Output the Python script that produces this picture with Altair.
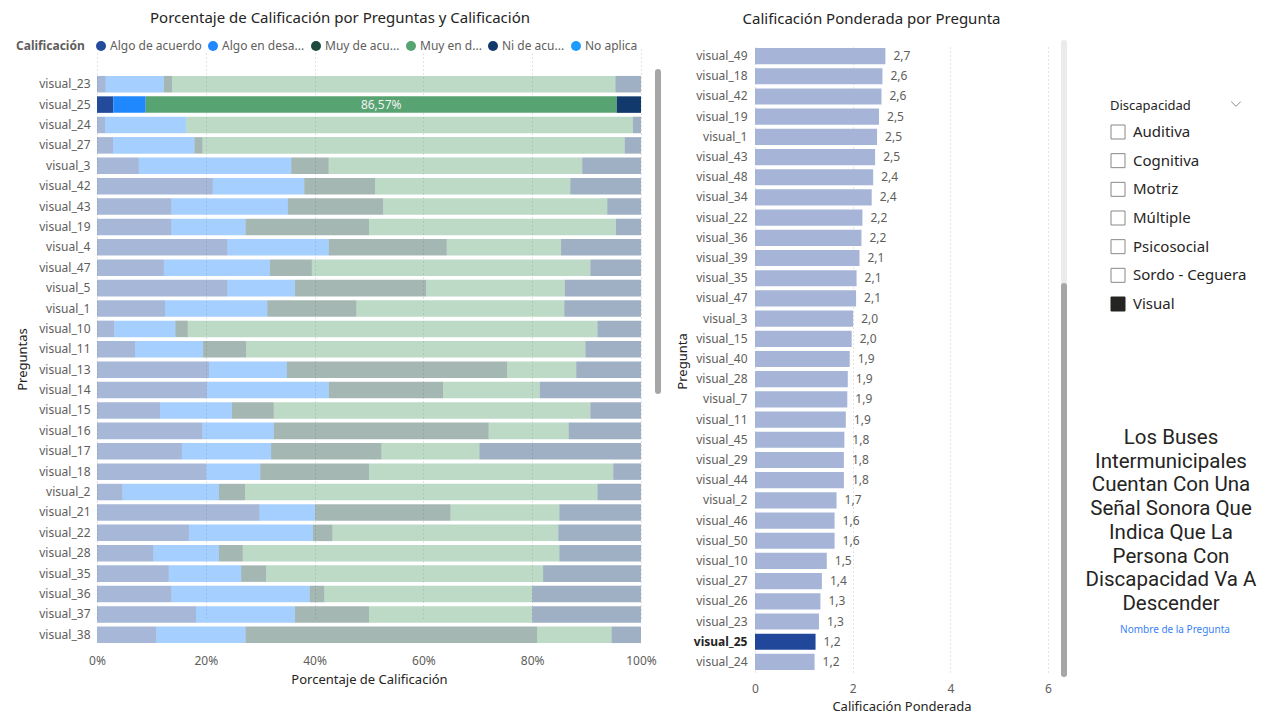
import altair as alt
import pandas as pd

FONT = "Segoe UI, Noto Sans, sans-serif"
TXT = "#252423"
LBL = "#605E5C"

# ---------------- left chart data ----------------
preguntas = ["visual_23", "visual_25", "visual_24", "visual_27", "visual_3", "visual_42", "visual_43",
             "visual_19", "visual_4", "visual_47", "visual_5", "visual_1", "visual_10", "visual_11",
             "visual_13", "visual_14", "visual_15", "visual_16", "visual_17", "visual_18", "visual_2",
             "visual_21", "visual_22", "visual_28", "visual_35", "visual_36", "visual_37", "visual_38"]
algo_de_acuerdo = [1.6, 2.99, 1.49, 2.99, 7.7, 21.3, 13.7, 13.7, 24.0, 12.3, 24.0, 12.5, 3.2, 7.0,
                   20.6, 20.2, 11.6, 19.4, 15.6, 20.1, 4.7, 29.9, 16.9, 10.4, 13.2, 13.7, 18.2, 10.9]
algo_en_desacuerdo = [10.7, 5.97, 14.93, 14.93, 28.0, 16.8, 21.4, 13.6, 18.6, 19.5, 12.4, 18.8, 11.2, 12.5,
                      14.3, 22.4, 13.2, 13.1, 16.4, 9.9, 17.7, 10.2, 22.8, 12.0, 13.3, 25.4, 18.2, 16.4]
muy_de_acuerdo = [1.5, 0.0, 0.0, 1.49, 6.9, 13.0, 17.5, 22.7, 21.7, 7.7, 24.1, 16.4, 2.3, 7.9,
                  40.5, 21.0, 7.7, 39.5, 20.3, 20.0, 4.8, 24.9, 3.6, 4.4, 4.6, 2.7, 13.6, 53.6]
muy_en_desacuerdo = [81.5, 86.57, 82.09, 77.61, 46.6, 35.9, 41.2, 45.4, 21.0, 51.2, 25.5, 38.2, 75.3, 62.4,
                     12.7, 17.8, 58.2, 14.7, 18.0, 44.9, 64.8, 20.0, 41.5, 58.2, 50.9, 38.2, 30.0, 13.7]
ni_de_acuerdo = [4.7, 4.47, 1.49, 2.99, 10.8, 13.0, 6.2, 4.6, 14.7, 9.3, 14.0, 14.1, 8.0, 10.2,
                 11.9, 18.6, 9.3, 13.3, 29.7, 5.1, 8.0, 15.0, 15.2, 15.0, 18.0, 20.0, 20.0, 5.4]

categorias = ["Algo de acuerdo", "Algo en desacuerdo", "Muy de acuerdo", "Muy en desacuerdo",
              "Ni de acuerdo ni en desacuerdo", "No aplica"]
colores = ["#234A9B", "#1F88FF", "#1D4A3E", "#57A371", "#12396C", "#1E9BFF"]

series = [algo_de_acuerdo, algo_en_desacuerdo, muy_de_acuerdo, muy_en_desacuerdo, ni_de_acuerdo]
rows = []
for i, p in enumerate(preguntas):
    for k, s in enumerate(series):
        rows.append({"pregunta": p, "calificacion": categorias[k], "orden": k, "v": s[i]})
df_left = pd.DataFrame(rows)

# ---------------- right chart data ----------------
preguntas_pond = ["visual_49", "visual_18", "visual_42", "visual_19", "visual_1", "visual_43", "visual_48",
                  "visual_34", "visual_22", "visual_36", "visual_39", "visual_35", "visual_47", "visual_3",
                  "visual_15", "visual_40", "visual_28", "visual_7", "visual_11", "visual_45", "visual_29",
                  "visual_44", "visual_2", "visual_46", "visual_50", "visual_10", "visual_27", "visual_26",
                  "visual_23", "visual_25", "visual_24"]
ponderada = [2.67, 2.61, 2.59, 2.54, 2.50, 2.46, 2.42, 2.39, 2.20, 2.18, 2.14, 2.08, 2.07, 2.01,
             1.98, 1.94, 1.90, 1.89, 1.86, 1.83, 1.82, 1.82, 1.67, 1.63, 1.63, 1.47, 1.37, 1.34,
             1.31, 1.24, 1.22]
df_right = pd.DataFrame({"pregunta": preguntas_pond, "valor": ponderada})

# ---------------- panel data ----------------
discapacidades = ["Auditiva", "Cognitiva", "Motriz", "Múltiple", "Psicosocial", "Sordo - Ceguera", "Visual"]
seleccion = "Visual"
df_disc = pd.DataFrame({"item": discapacidades})
texto_lineas = ["Los Buses", "Intermunicipales", "Cuentan Con Una", "Señal Sonora Que",
                "Indica Que La", "Persona Con", "Discapacidad Va A", "Descender"]
df_texto = pd.DataFrame({"linea": texto_lineas})

SEL = "visual_25"
one = pd.DataFrame({"a": [0]})

# ================= LEFT =================
LW, LH = 544, 600
label_map = ("datum.label == 'Algo en desacuerdo' ? 'Algo en desa...' : "
             "datum.label == 'Muy de acuerdo' ? 'Muy de acu...' : "
             "datum.label == 'Muy en desacuerdo' ? 'Muy en d...' : "
             "datum.label == 'Ni de acuerdo ni en desacuerdo' ? 'Ni de acu...' : datum.label")

left_base = (
    alt.Chart(df_left)
    .transform_joinaggregate(total="sum(v)", groupby=["pregunta"])
    .transform_calculate(frac="datum.v / datum.total")
    .transform_window(cum="sum(frac)", groupby=["pregunta"], sort=[alt.SortField("orden")], frame=[None, 0])
    .transform_calculate(x0="datum.cum - datum.frac", mid="datum.cum - datum.frac / 2")
)
left_yscale = alt.Scale(range=[28, 599], paddingInner=0.19, paddingOuter=0.095)
y_left = alt.Y("pregunta:N", sort=preguntas, scale=left_yscale,
               axis=alt.Axis(title="Preguntas", labelColor=LBL, labelFontSize=12, labelPadding=7,
                             domain=False, ticks=False, titleColor=TXT, titleFontSize=13,
                             titleFontWeight="normal", titleAngle=270, titleX=-75, titleY=313,
                             titleBaseline="middle"))
x_left = alt.X("x0:Q", scale=alt.Scale(domain=[0, 1], nice=False),
               axis=alt.Axis(title="Porcentaje de Calificación", format=".0%",
                             values=[0, 0.2, 0.4, 0.6, 0.8, 1.0], labelColor=LBL, labelFontSize=12,
                             labelPadding=9, labelFlush=False, domain=False, ticks=False, grid=True,
                             gridColor="#C8C6C4", gridDash=[1, 3], titleColor=TXT, titleFontSize=13,
                             titleFontWeight="normal", titlePadding=7))
left_bars = left_base.mark_bar().encode(
    y=y_left, x=x_left, x2="cum:Q",
    color=alt.Color("calificacion:N", scale=alt.Scale(domain=categorias, range=colores),
                    legend=alt.Legend(title="Calificación", orient="none", legendX=-81, legendY=-6,
                                      direction="horizontal", titleOrient="left", titleFontWeight="bold",
                                      titleFontSize=12, titleColor=LBL, titlePadding=10,
                                      labelFontSize=12, labelColor=LBL, labelExpr=label_map,
                                      symbolType="circle", symbolSize=100, symbolOpacity=1,
                                      columnPadding=5, labelOffset=3, fillColor="white",
                                      padding=0, labelLimit=200)),
    opacity=alt.condition(f"datum.pregunta == '{SEL}'", alt.value(1.0), alt.value(0.4)),
)
left_text = left_base.transform_filter(
    f"datum.pregunta == '{SEL}' && datum.calificacion == 'Muy en desacuerdo'"
).transform_calculate(
    lbl="replace(format(datum.frac * 100, '.2f'), '.', ',') + '%'"
).mark_text(color="#F2F2F2", fontSize=12, font=FONT).encode(
    y=alt.Y("pregunta:N", sort=preguntas, scale=left_yscale),
    x=alt.X("mid:Q"), text="lbl:N")
left_scroll = alt.Chart(one).mark_rule(color="#A6A6A6", strokeWidth=6, strokeCap="round").encode(
    x=alt.value(561), y=alt.value(26), y2=alt.value(345))

left = alt.layer(left_bars, left_text, left_scroll).properties(
    width=LW, height=LH,
    title=alt.TitleParams("Porcentaje de Calificación por Preguntas y Calificación", anchor="middle",
                          frame="group", dx=-29, fontSize=15, font=FONT, color=TXT,
                          fontWeight="normal", offset=20))

# ================= RIGHT =================
RW, RH = 293, 626
r_base = alt.Chart(df_right).transform_calculate(
    lbl="replace(format(datum.valor, '.1f'), '.', ',')")
y_right = alt.Y("pregunta:N", sort=preguntas_pond,
                scale=alt.Scale(paddingInner=0.2, paddingOuter=0.1),
                axis=alt.Axis(title="Pregunta", labelFontSize=12, labelPadding=8, domain=False, ticks=False,
                              labelColor={"condition": {"test": f"datum.value == '{SEL}'", "value": TXT}, "value": LBL},
                              labelFontWeight={"condition": {"test": f"datum.value == '{SEL}'", "value": "bold"}, "value": "normal"},
                              titleColor=TXT, titleFontSize=13, titleFontWeight="normal", titleAngle=270,
                              titleX=-73, titleY=315, titleBaseline="middle"))
x_right = alt.X("valor:Q", scale=alt.Scale(domain=[0, 6], nice=False),
                axis=alt.Axis(title="Calificación Ponderada", values=[0, 2, 4, 6], labelColor=LBL,
                              labelFontSize=12, labelPadding=11, labelFlush=False, domain=False, ticks=False,
                              grid=True, gridColor="#C8C6C4", gridDash=[1, 3], titleColor=TXT,
                              titleFontSize=13, titleFontWeight="normal", titlePadding=6))
r_bars = r_base.mark_bar().encode(
    y=y_right, x=x_right,
    color=alt.condition(f"datum.pregunta == '{SEL}'", alt.value("#21479B"), alt.value("#A6B5D7")))
r_text = r_base.mark_text(align="left", dx=8, fontSize=12, color=LBL, font=FONT).encode(
    y=alt.Y("pregunta:N", sort=preguntas_pond), x="valor:Q", text="lbl:N")
r_track = alt.Chart(one).mark_rule(color="#EBEBEB", strokeWidth=6, strokeCap="round").encode(
    x=alt.value(309), y=alt.value(-3), y2=alt.value(628))
r_thumb = alt.Chart(one).mark_rule(color="#A6A6A6", strokeWidth=6, strokeCap="round").encode(
    x=alt.value(309), y=alt.value(240), y2=alt.value(628))
right = alt.layer(r_bars, r_text, r_track, r_thumb).properties(
    width=RW, height=RH,
    title=alt.TitleParams("Calificación Ponderada por Pregunta", anchor="middle", frame="group",
                          dx=-30, fontSize=15, font=FONT, color=TXT, fontWeight="normal", offset=13))

# ================= PANEL =================
PW, PH = 85, 626
disc_y = alt.Y("item:N", sort=discapacidades, scale=alt.Scale(type="point", range=[86, 258], padding=0), axis=None)
p_boxes = alt.Chart(df_disc).mark_square(size=196, strokeWidth=1, opacity=1).encode(
    y=disc_y, x=alt.value(-44),
    fill=alt.condition(f"datum.item == '{seleccion}'", alt.value("#252423"), alt.value("white")),
    stroke=alt.condition(f"datum.item == '{seleccion}'", alt.value("#252423"), alt.value("#8A8886")))
p_labels = alt.Chart(df_disc).mark_text(align="left", baseline="middle", fontSize=15, color=TXT, font=FONT).encode(
    y=disc_y, x=alt.value(-29), text="item:N")
p_title = alt.Chart(one).mark_text(align="left", baseline="middle", fontSize=13, color=TXT, font=FONT).encode(
    x=alt.value(-52), y=alt.value(60), text=alt.value("Discapacidad"))
p_chev = alt.Chart(one).mark_point(shape="M-1,-0.5L0,0.5L1,-0.5", size=90, filled=False, opacity=1,
                                   color="#8A8886", strokeWidth=1).encode(
    x=alt.value(74), y=alt.value(58))
text_y = alt.Y("linea:N", sort=texto_lineas, scale=alt.Scale(type="point", range=[392, 558], padding=0), axis=None)
p_texto = alt.Chart(df_texto).mark_text(align="center", baseline="middle", fontSize=20.5, color=TXT,
                                        font="Roboto").encode(
    y=text_y, x=alt.value(9), text="linea:N")
p_nombre = alt.Chart(one).mark_text(align="center", baseline="middle", fontSize=10, color="#3B82F6", font=FONT).encode(
    x=alt.value(13), y=alt.value(584), text=alt.value("Nombre de la Pregunta"))
panel = alt.layer(p_boxes, p_labels, p_title, p_chev, p_texto, p_nombre).resolve_scale(
    y="independent").properties(width=PW, height=PH)

chart = alt.hconcat(left, right, panel, spacing=114, bounds="flush").properties(
    padding={"left": 8, "top": 3, "right": 0, "bottom": 0},
    background="white",
).configure(font=FONT).configure_view(stroke="transparent", strokeWidth=0)

chart.save("out.html", embed_options={"renderer": "svg", "actions": False})
